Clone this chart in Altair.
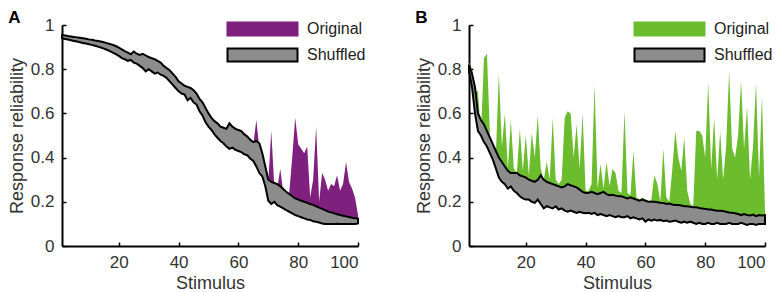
import altair as alt
import pandas as pd

stimulus = list(range(1, 101))

# Panel A (purple) -- shuffled band
a_shuf_hi = [0.955, 0.953, 0.950, 0.948, 0.946, 0.944, 0.942, 0.940, 0.938, 0.935,
             0.933, 0.930, 0.928, 0.925, 0.922, 0.918, 0.914, 0.910, 0.905, 0.898,
             0.890, 0.882, 0.875, 0.868, 0.880, 0.870, 0.865, 0.870, 0.862, 0.855,
             0.850, 0.845, 0.838, 0.830, 0.815, 0.805, 0.795, 0.780, 0.765, 0.745,
             0.735, 0.725, 0.720, 0.715, 0.705, 0.690, 0.665, 0.650, 0.625, 0.600,
             0.580, 0.565, 0.555, 0.540, 0.535, 0.530, 0.555, 0.540, 0.530, 0.525,
             0.520, 0.505, 0.495, 0.480, 0.470, 0.475, 0.465, 0.420, 0.360, 0.300,
             0.290, 0.285, 0.280, 0.270, 0.258, 0.245, 0.235, 0.225, 0.215, 0.210,
             0.205, 0.200, 0.195, 0.190, 0.186, 0.180, 0.174, 0.168, 0.162, 0.156,
             0.152, 0.148, 0.144, 0.140, 0.137, 0.134, 0.131, 0.128, 0.126, 0.124]
a_shuf_lo = [0.940, 0.937, 0.934, 0.931, 0.928, 0.925, 0.922, 0.919, 0.916, 0.913,
             0.910, 0.906, 0.902, 0.898, 0.893, 0.888, 0.882, 0.875, 0.868, 0.860,
             0.850, 0.845, 0.838, 0.842, 0.830, 0.825, 0.815, 0.805, 0.790, 0.800,
             0.790, 0.780, 0.785, 0.775, 0.770, 0.760, 0.745, 0.730, 0.715, 0.700,
             0.690, 0.685, 0.660, 0.670, 0.650, 0.640, 0.610, 0.590, 0.560, 0.540,
             0.525, 0.505, 0.490, 0.475, 0.465, 0.450, 0.440, 0.445, 0.435, 0.430,
             0.425, 0.415, 0.410, 0.395, 0.385, 0.360, 0.330, 0.315, 0.270, 0.205,
             0.190, 0.200, 0.185, 0.178, 0.170, 0.162, 0.155, 0.148, 0.140, 0.135,
             0.130, 0.125, 0.120, 0.118, 0.112, 0.110, 0.106, 0.102, 0.100, 0.100,
             0.100, 0.100, 0.101, 0.100, 0.100, 0.100, 0.100, 0.100, 0.100, 0.102]
# Panel A -- original (visible part, stimuli 64..100)
a_orig_stim = list(range(64, 101))
a_orig_hi = [0.46, 0.46, 0.57, 0.44, 0.38, 0.30, 0.29, 0.52, 0.27, 0.26,
             0.35, 0.24, 0.23, 0.24, 0.40, 0.58, 0.46, 0.44, 0.42, 0.45,
             0.22, 0.30, 0.54, 0.20, 0.33, 0.30, 0.25, 0.28, 0.27, 0.32,
             0.25, 0.28, 0.38, 0.29, 0.26, 0.22, 0.14]

# Panel B (green) -- shuffled band
b_shuf_hi = [0.82, 0.78, 0.72, 0.60, 0.57, 0.55, 0.52, 0.49, 0.46, 0.43,
             0.40, 0.38, 0.36, 0.34, 0.33, 0.33, 0.33, 0.32, 0.315, 0.31,
             0.30, 0.295, 0.29, 0.30, 0.32, 0.30, 0.29, 0.285, 0.28, 0.275,
             0.27, 0.265, 0.27, 0.28, 0.275, 0.27, 0.265, 0.255, 0.245, 0.24,
             0.24, 0.245, 0.24, 0.235, 0.24, 0.245, 0.235, 0.23, 0.232, 0.228,
             0.225, 0.225, 0.22, 0.215, 0.22, 0.215, 0.21, 0.205, 0.21, 0.205,
             0.20, 0.20, 0.20, 0.198, 0.196, 0.195, 0.19, 0.192, 0.188, 0.186,
             0.185, 0.183, 0.18, 0.18, 0.178, 0.175, 0.175, 0.172, 0.17, 0.168,
             0.165, 0.165, 0.162, 0.16, 0.16, 0.158, 0.155, 0.152, 0.15, 0.148,
             0.145, 0.14, 0.145, 0.14, 0.138, 0.142, 0.135, 0.14, 0.138, 0.14]
b_shuf_lo = [0.79, 0.72, 0.60, 0.52, 0.50, 0.47, 0.45, 0.42, 0.39, 0.35,
             0.31, 0.29, 0.28, 0.26, 0.27, 0.25, 0.24, 0.225, 0.215, 0.21,
             0.21, 0.20, 0.195, 0.21, 0.19, 0.17, 0.18, 0.175, 0.17, 0.18,
             0.165, 0.17, 0.16, 0.155, 0.16, 0.155, 0.15, 0.155, 0.15, 0.148,
             0.15, 0.145, 0.15, 0.14, 0.145, 0.14, 0.135, 0.14, 0.135, 0.13,
             0.135, 0.13, 0.13, 0.135, 0.125, 0.13, 0.125, 0.12, 0.125, 0.11,
             0.12, 0.115, 0.12, 0.115, 0.118, 0.112, 0.115, 0.11, 0.112, 0.115,
             0.11, 0.105, 0.11, 0.105, 0.11, 0.105, 0.10, 0.105, 0.10, 0.10,
             0.105, 0.10, 0.10, 0.105, 0.10, 0.10, 0.10, 0.105, 0.10, 0.10,
             0.10, 0.105, 0.10, 0.095, 0.10, 0.10, 0.095, 0.10, 0.10, 0.10]
# Panel B -- original
b_orig_stim = list(range(1, 101))
b_orig_hi = [0.83, 0.80, 0.70, 0.70, 0.50, 0.85, 0.87, 0.50, 0.45, 0.42,
             0.78, 0.45, 0.60, 0.35, 0.57, 0.35, 0.33, 0.53, 0.34, 0.50,
             0.32, 0.51, 0.40, 0.59, 0.35, 0.30, 0.38, 0.30, 0.58, 0.30,
             0.28, 0.30, 0.58, 0.61, 0.60, 0.40, 0.55, 0.35, 0.60, 0.25,
             0.25, 0.28, 0.73, 0.26, 0.37, 0.26, 0.38, 0.27, 0.35, 0.33,
             0.25, 0.24, 0.61, 0.24, 0.23, 0.43, 0.22, 0.21, 0.22, 0.21,
             0.20, 0.21, 0.32, 0.28, 0.20, 0.44, 0.22, 0.20, 0.35, 0.52,
             0.40, 0.34, 0.49, 0.25, 0.19, 0.18, 0.52, 0.52, 0.50, 0.40,
             0.74, 0.35, 0.58, 0.30, 0.52, 0.30, 0.45, 0.79, 0.44, 0.40,
             0.50, 0.75, 0.44, 0.63, 0.30, 0.45, 0.74, 0.31, 0.68, 0.15]

series_names = ["Original", "Shuffled"]
x_ticks = [20, 40, 60, 80, 100]
y_ticks = [0, 0.2, 0.4, 0.6, 0.8, 1]

GRAY = "#8c8c8c"
# wide rectangle swatch: symbol size 169 -> unit = 6.5px; 70px wide, 13px tall
SWATCH = "M-1,-1L9.77,-1L9.77,1L-1,1Z"


def panel(letter, shuf_hi, shuf_lo, orig_stim, orig_hi, color):
    lo_map = dict(zip(stimulus, shuf_lo))
    shuf = pd.DataFrame({"stimulus": stimulus, "hi": shuf_hi, "lo": shuf_lo,
                         "series": "Shuffled"})
    orig = pd.DataFrame({"stimulus": orig_stim, "hi": orig_hi,
                         "lo": [lo_map[s] for s in orig_stim],
                         "series": "Original"})
    legend = alt.Legend(orient="none", legendX=164, legendY=-4, title=None,
                        symbolType=SWATCH, symbolSize=169, symbolStrokeWidth=2,
                        symbolOpacity=1, labelFontSize=16, labelOffset=65,
                        labelColor="#222", rowPadding=4, labelFont="Liberation Sans")
    fill = alt.Fill("series:N", scale=alt.Scale(domain=series_names, range=[color, GRAY]),
                    legend=legend)
    stroke = alt.Stroke("series:N", scale=alt.Scale(domain=series_names, range=[color, "black"]),
                        legend=legend)
    x = alt.X("stimulus:Q", scale=alt.Scale(domain=[1, 100], nice=False, zero=False),
              axis=alt.Axis(values=x_ticks, title="Stimulus", labelPadding=12,
                            titlePadding=4))
    y = alt.Y("hi:Q", scale=alt.Scale(domain=[0, 1], nice=False),
              axis=alt.Axis(values=y_ticks, format="~g", title="Response reliability",
                            labelPadding=12, titlePadding=4))
    o = alt.Chart(orig).mark_area(strokeWidth=0, opacity=1, fillOpacity=1).encode(
        x=x, y=y, y2="lo:Q", fill=fill, stroke=stroke)
    s = alt.Chart(shuf).mark_area(strokeWidth=2, opacity=1, fillOpacity=1,
                                  strokeJoin="miter").encode(
        x=x, y=y, y2="lo:Q", fill=fill, stroke=stroke)
    return alt.layer(o, s).properties(
        width=296, height=221,
        title=alt.TitleParams(letter, anchor="start", frame="bounds", fontSize=17,
                              fontWeight="bold", color="black", offset=-11,
                              font="Liberation Sans"))


chart = alt.hconcat(
    panel("A", a_shuf_hi, a_shuf_lo, a_orig_stim, a_orig_hi, "#7f1f7e"),
    panel("B", b_shuf_hi, b_shuf_lo, b_orig_stim, b_orig_hi, "#6bbd2e"),
    spacing=49,
).resolve_scale(fill="independent", stroke="independent").properties(
    padding={"top": 1, "left": 0, "right": 0, "bottom": 0}
).configure_view(stroke=None).configure_axis(
    domainColor="black", domainWidth=2, tickColor="black", tickWidth=1.5,
    tickSize=alt.ExprRef("-4"), grid=False, labelFontSize=17, titleFontSize=18,
    labelColor="#333", titleColor="#333", labelFont="Liberation Sans",
    titleFont="Liberation Sans", titleFontWeight="normal"
)

chart.save("out.html", embed_options={"renderer": "svg", "actions": False})
